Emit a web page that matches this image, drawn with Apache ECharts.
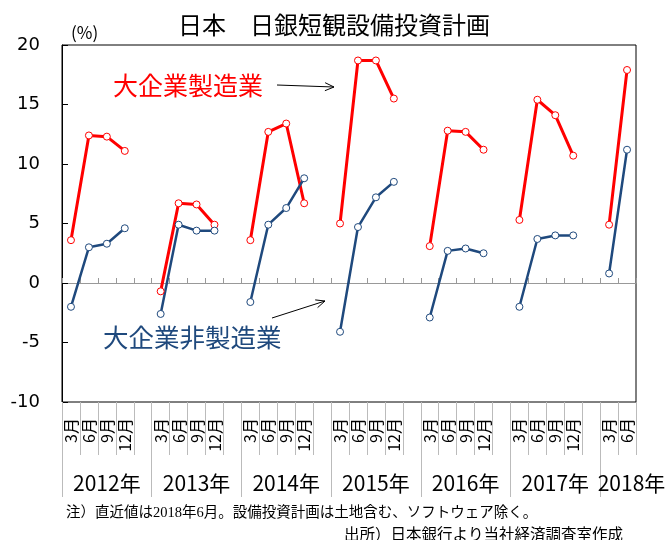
<!DOCTYPE html>
<html>
<head>
<meta charset="utf-8">
<script src="https://cdn.jsdelivr.net/npm/echarts@6/dist/echarts.min.js"></script>
<style>html,body{margin:0;padding:0;background:#fff;}#c{width:671px;height:540px;}</style>
</head>
<body>
<div id="c"></div>
<script>
// categories: 5 slots per year (4 quarters + gap), 2018 has 2
var years = ['2012年','2013年','2014年','2015年','2016年','2017年','2018年'];
var months = [
  '3月','6月','9月','12月','',
  '3月','6月','9月','12月','',
  '3月','6月','9月','12月','',
  '3月','6月','9月','12月','',
  '3月','6月','9月','12月','',
  '3月','6月','9月','12月','',
  '3月','6月'
];
var manufacturing = [
  3.6, 12.4, 12.3, 11.1, null,
  -0.7, 6.7, 6.6, 4.9, null,
  3.6, 12.7, 13.4, 6.7, null,
  5.0, 18.7, 18.7, 15.5, null,
  3.1, 12.8, 12.7, 11.2, null,
  5.3, 15.4, 14.1, 10.7, null,
  4.9, 17.9
];
var nonManufacturing = [
  -2.0, 3.0, 3.3, 4.6, null,
  -2.6, 4.9, 4.4, 4.4, null,
  -1.6, 4.9, 6.3, 8.8, null,
  -4.1, 4.7, 7.2, 8.5, null,
  -2.9, 2.7, 2.9, 2.5, null,
  -2.0, 3.7, 4.0, 4.0, null,
  0.8, 11.2
];
var yearBoundaries = [0, 5, 10, 15, 20, 25, 30];
var yearLabelPos = [2.5, 7.5, 12.5, 17.5, 22.5, 27.5, 31.75];

var RED = '#FF0000', BLUE = '#1F497D';
var chart = echarts.init(document.getElementById('c'));
var jp = 'Noto Sans CJK JP';
chart.setOption({
  animation: false,
  backgroundColor: '#fff',
  grid: {left: 62, right: 35, top: 45, bottom: 138, show: true, borderColor: '#000', borderWidth: 1, backgroundColor: 'transparent'},
  title: {
    text: '日本　日銀短観設備投資計画', left: 173, top: 8,
    textStyle: {fontFamily: jp, fontSize: 24, fontWeight: 'normal', color: '#000'}
  },
  xAxis: [
    {
      type: 'category', data: months, position: 'bottom',
      axisLine: {show: true, onZero: true, lineStyle: {color: '#999', width: 1}},
      axisTick: {show: true, inside: true, interval: 0, length: 5, lineStyle: {color: '#999'}},
      axisLabel: {show: false}, splitLine: {show: false}
    },
    {
      type: 'category', data: months, position: 'bottom',
      axisLine: {show: false, onZero: false},
      axisTick: {show: true, interval: 0, length: 53, lineStyle: {color: '#bbb'}},
      axisLabel: {show: true, interval: 0, rotate: 90, margin: 16, fontFamily: jp, fontSize: 16, color: '#000'},
      splitLine: {show: false}
    },
    {
      type: 'value', min: 0, max: 32, position: 'bottom',
      axisLine: {show: false, onZero: false},
      axisTick: {show: true, customValues: yearBoundaries, length: 95, lineStyle: {color: '#bbb'}},
      axisLabel: {
        show: true, customValues: yearLabelPos, margin: 71, fontFamily: jp, fontSize: 21, color: '#000',
        formatter: function (v) { return years[Math.min(6, Math.floor(v / 5))]; }
      },
      splitLine: {show: false}
    }
  ],
  yAxis: {
    type: 'value', min: -10, max: 20, interval: 5,
    axisLine: {show: true, lineStyle: {color: '#000'}},
    axisTick: {show: true, inside: true, length: 6, lineStyle: {color: '#000'}},
    axisLabel: {margin: 22, fontFamily: 'DejaVu Sans', fontSize: 18, color: '#000'},
    splitLine: {show: false}
  },
  series: [
    {
      name: '大企業製造業', type: 'line', xAxisIndex: 0, data: manufacturing, connectNulls: false,
      symbol: 'circle', symbolSize: 7, showAllSymbol: true,
      lineStyle: {color: RED, width: 3},
      itemStyle: {color: '#fff', borderColor: RED, borderWidth: 1}
    },
    {
      name: '大企業非製造業', type: 'line', xAxisIndex: 0, data: nonManufacturing, connectNulls: false,
      symbol: 'circle', symbolSize: 7, showAllSymbol: true,
      lineStyle: {color: BLUE, width: 2.5},
      itemStyle: {color: '#fff', borderColor: BLUE, borderWidth: 1}
    }
  ],
  graphic: [
    {type: 'text', left: 71, top: 24, style: {text: '(%)', font: '17px "Noto Sans CJK JP"', fill: '#000'}},
    {type: 'text', left: 113, top: 73, style: {text: '大企業製造業', font: '25px "Noto Sans CJK JP"', fill: RED}},
    {type: 'text', left: 103, top: 325, style: {text: '大企業非製造業', font: '25.5px "Noto Sans CJK JP"', fill: BLUE}},
    {type: 'line', shape: {x1: 277, y1: 85, x2: 334, y2: 87}, style: {stroke: '#000', lineWidth: 1}},
    {type: 'polyline', shape: {points: [[324.9, 90.7], [334, 87], [325.1, 82.7]]}, style: {stroke: '#000', lineWidth: 1, fill: null}},
    {type: 'line', shape: {x1: 272, y1: 318, x2: 325, y2: 301}, style: {stroke: '#000', lineWidth: 1}},
    {type: 'polyline', shape: {points: [[317.6, 307.6], [325, 301], [315.2, 299.9]]}, style: {stroke: '#000', lineWidth: 1, fill: null}},
    {type: 'text', left: 66, top: 506, style: {text: '注）直近値は2018年6月。設備投資計画は土地含む、ソフトウェア除く。', font: '14.5px "Liberation Serif", "Noto Sans CJK JP"', fill: '#000'}},
    {type: 'text', right: 48, top: 526, style: {text: '出所）日本銀行より当社経済調査室作成', font: '15.5px "Noto Sans CJK JP"', fill: '#000'}}
  ]
});
</script>
</body>
</html>
